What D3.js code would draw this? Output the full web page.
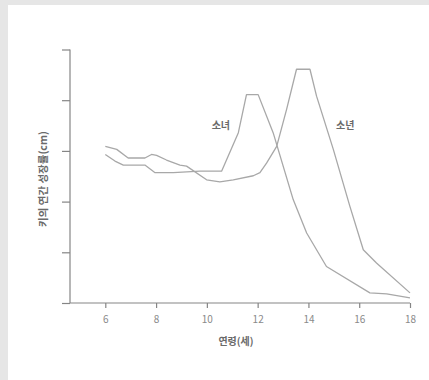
<!DOCTYPE html>
<html>
<head>
<meta charset="utf-8">
<script src="https://cdn.jsdelivr.net/npm/d3@7"></script>
<style>
  body { margin: 0; background: #e6e6e6; }
  svg { display: block; }
  .axis path, .axis line { stroke: #858585; stroke-width: 1.2; }
  .axis text { fill: #8a8a8a; font-family: "Noto Sans CJK KR", "Noto Sans", sans-serif; font-size: 10px; }
  .axis-title, .series-label { fill: #6a6a6a; font-family: "Noto Sans CJK KR", sans-serif; font-size: 10px; font-weight: bold; }
</style>
</head>
<body>
<svg id="chart"></svg>
<script>
// 연령(세)
const xTicks = [6, 8, 10, 12, 14, 16, 18];
const yTicks = [0, 1, 2, 3, 4, 5];

// 소년 (boys)
const boyAge  = [6, 6.45, 6.9, 7.56, 7.82, 8.02, 8.41, 8.94, 9.2, 9.99, 10.51, 11.04, 11.83, 12.09, 12.35, 12.75, 13.14, 13.53, 14.06, 14.32, 14.98, 15.63, 16.16, 16.68, 18];
const boyRate = [3.09, 3.03, 2.86, 2.86, 2.93, 2.91, 2.82, 2.72, 2.70, 2.43, 2.39, 2.43, 2.51, 2.57, 2.76, 3.09, 3.82, 4.61, 4.61, 4.08, 3.03, 1.91, 1.05, 0.79, 0.2];

// 소녀 (girls)
const girlAge  = [6, 6.38, 6.71, 7.56, 7.96, 8.68, 9.73, 10.58, 11.24, 11.56, 12.02, 12.61, 13.4, 13.93, 14.71, 16.42, 17.08, 18];
const girlRate = [2.93, 2.80, 2.72, 2.72, 2.57, 2.57, 2.60, 2.60, 3.36, 4.11, 4.11, 3.36, 2.04, 1.38, 0.72, 0.2, 0.18, 0.1];

const width = 429, height = 380;
const svg = d3.select('#chart').attr('width', width).attr('height', height);

// white panel on grey border
svg.append('rect').attr('x', 8).attr('y', 5).attr('width', width - 8).attr('height', height - 5).attr('fill', '#fff');

const xScale = d3.scaleLinear().domain([6, 18]).range([105.3, 410]);
const yScale = d3.scaleLinear().domain([0, 5]).range([303, 49.5]);
const x0 = xScale.invert(70);

// y axis
const yAxisG = svg.append('g').attr('class', 'axis').attr('transform', 'translate(70,0)')
  .call(d3.axisLeft(yScale).tickValues(yTicks).tickSize(8).tickSizeOuter(0).tickFormat(''));
yAxisG.select('.domain').remove();
yAxisG.append('line').attr('x1', 0).attr('x2', 0).attr('y1', yScale(5)).attr('y2', yScale(0));

// x axis
const xAxisG = svg.append('g').attr('class', 'axis').attr('transform', 'translate(0,303)')
  .call(d3.axisBottom(xScale).tickValues(xTicks).tickSize(5).tickSizeOuter(0).tickPadding(8));
xAxisG.select('.domain').remove();
xAxisG.append('line').attr('x1', xScale(x0)).attr('x2', xScale(18)).attr('y1', 0).attr('y2', 0);

const line = d3.line().x(d => xScale(d[0])).y(d => yScale(d[1]));

const series = [
  {name: '소년', pts: d3.zip(boyAge, boyRate)},
  {name: '소녀', pts: d3.zip(girlAge, girlRate)}
];

svg.selectAll('.series')
  .data(series)
  .join('path')
  .attr('class', 'series')
  .attr('d', d => line(d.pts))
  .attr('fill', 'none')
  .attr('stroke', '#a8a8a8')
  .attr('stroke-width', 1.3)
  .attr('stroke-linejoin', 'round');

// series labels
svg.append('text').attr('class', 'series-label')
  .attr('x', xScale(10.55)).attr('y', yScale(3.5)).attr('text-anchor', 'middle').attr('dy', '0.35em').text('소녀');
svg.append('text').attr('class', 'series-label')
  .attr('x', xScale(15.45)).attr('y', yScale(3.5)).attr('text-anchor', 'middle').attr('dy', '0.35em').text('소년');

// axis titles
svg.append('text').attr('class', 'axis-title')
  .attr('x', 236).attr('y', 341).attr('text-anchor', 'middle').attr('dy', '0.35em')
  .text('연령(세)');
svg.append('text').attr('class', 'axis-title')
  .style('font-size', '10.5px')
  .attr('transform', 'translate(43,179) rotate(-90)')
  .attr('text-anchor', 'middle').attr('dy', '0.35em')
  .text('키의 연간 성장률(cm)');
</script>
</body>
</html>
